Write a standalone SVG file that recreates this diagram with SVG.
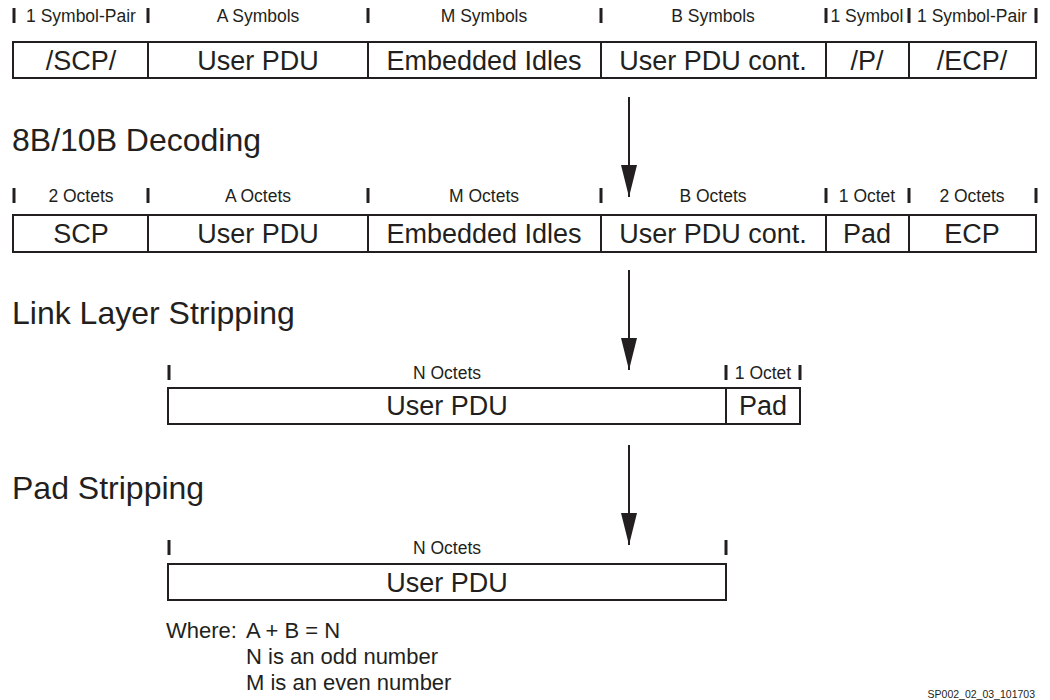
<svg xmlns="http://www.w3.org/2000/svg" width="1050" height="700" viewBox="0 0 1050 700">
<defs>
<style>
text{font-family:"Liberation Sans",Arial,sans-serif;fill:#231f20}
.lbl{font-size:17.5px;text-anchor:middle}
.cell{font-size:27px;text-anchor:middle}
.head{font-size:32px}
.note{font-size:22px}
.box{fill:#fff;stroke:#231f20;stroke-width:2}
.div{stroke:#231f20;stroke-width:2}
.tick{stroke:#231f20;stroke-width:3}
.arr{stroke:#231f20;stroke-width:2;fill:none}
</style>
<marker id="ah" viewBox="0 0 32 16" refX="32" refY="8" markerWidth="32" markerHeight="16" markerUnits="userSpaceOnUse" orient="auto">
<path d="M0,0 L32,8 L0,16 Z" fill="#231f20"/>
</marker>
</defs>
<rect width="1050" height="700" fill="#fff"/>

<g id="row1">
<g class="tick">
<line x1="14" y1="8" x2="14" y2="23"/><line x1="148" y1="8" x2="148" y2="23"/><line x1="368" y1="8" x2="368" y2="23"/><line x1="601" y1="8" x2="601" y2="23"/><line x1="826" y1="8" x2="826" y2="23"/><line x1="909" y1="8" x2="909" y2="23"/><line x1="1036" y1="8" x2="1036" y2="23"/>
</g>
<text class="lbl" x="81" y="22">1 Symbol-Pair</text>
<text class="lbl" x="258" y="22">A Symbols</text>
<text class="lbl" x="484" y="22">M Symbols</text>
<text class="lbl" x="713" y="22">B Symbols</text>
<text class="lbl" x="867" y="22">1 Symbol</text>
<text class="lbl" x="972" y="22">1 Symbol-Pair</text>
<rect class="box" x="13" y="42" width="1023" height="36"/>
<g class="div"><line x1="148" y1="42" x2="148" y2="78"/><line x1="368" y1="42" x2="368" y2="78"/><line x1="601" y1="42" x2="601" y2="78"/><line x1="826" y1="42" x2="826" y2="78"/><line x1="909" y1="42" x2="909" y2="78"/></g>
<text class="cell" x="81" y="70">/SCP/</text>
<text class="cell" x="258" y="70">User PDU</text>
<text class="cell" x="484" y="70">Embedded Idles</text>
<text class="cell" x="713" y="70">User PDU cont.</text>
<text class="cell" x="867" y="70">/P/</text>
<text class="cell" x="972" y="70">/ECP/</text>
</g>

<text class="head" x="12" y="151">8B/10B Decoding</text>

<g id="row2">
<g class="tick">
<line x1="14" y1="188" x2="14" y2="203"/><line x1="148" y1="188" x2="148" y2="203"/><line x1="368" y1="188" x2="368" y2="203"/><line x1="601" y1="188" x2="601" y2="203"/><line x1="826" y1="188" x2="826" y2="203"/><line x1="909" y1="188" x2="909" y2="203"/><line x1="1036" y1="188" x2="1036" y2="203"/>
</g>
<text class="lbl" x="81" y="202">2 Octets</text>
<text class="lbl" x="258" y="202">A Octets</text>
<text class="lbl" x="484" y="202">M Octets</text>
<text class="lbl" x="713" y="202">B Octets</text>
<text class="lbl" x="867" y="202">1 Octet</text>
<text class="lbl" x="972" y="202">2 Octets</text>
<rect class="box" x="13" y="215" width="1023" height="37"/>
<g class="div"><line x1="148" y1="215" x2="148" y2="252"/><line x1="368" y1="215" x2="368" y2="252"/><line x1="601" y1="215" x2="601" y2="252"/><line x1="826" y1="215" x2="826" y2="252"/><line x1="909" y1="215" x2="909" y2="252"/></g>
<text class="cell" x="81" y="243">SCP</text>
<text class="cell" x="258" y="243">User PDU</text>
<text class="cell" x="484" y="243">Embedded Idles</text>
<text class="cell" x="713" y="243">User PDU cont.</text>
<text class="cell" x="867" y="243">Pad</text>
<text class="cell" x="972" y="243">ECP</text>
</g>

<text class="head" x="12" y="324">Link Layer Stripping</text>

<g id="row3">
<g class="tick"><line x1="169" y1="365" x2="169" y2="380"/><line x1="726" y1="365" x2="726" y2="380"/><line x1="800" y1="365" x2="800" y2="380"/></g>
<text class="lbl" x="447" y="379">N Octets</text>
<text class="lbl" x="763" y="379">1 Octet</text>
<rect class="box" x="168" y="388" width="632" height="36"/>
<line class="div" x1="726" y1="388" x2="726" y2="424"/>
<text class="cell" x="447" y="415">User PDU</text>
<text class="cell" x="763" y="415">Pad</text>
</g>

<text class="head" x="12" y="499">Pad Stripping</text>

<g id="row4">
<g class="tick"><line x1="169" y1="540" x2="169" y2="555"/><line x1="726" y1="540" x2="726" y2="555"/></g>
<text class="lbl" x="447" y="554">N Octets</text>
<rect class="box" x="168" y="564" width="558" height="36"/>
<text class="cell" x="447" y="592">User PDU</text>
</g>

<g id="connectors">
<line class="arr" x1="629" y1="97" x2="629" y2="197" marker-end="url(#ah)"/>
<line class="arr" x1="629" y1="270" x2="629" y2="370" marker-end="url(#ah)"/>
<line class="arr" x1="629" y1="445" x2="629" y2="545" marker-end="url(#ah)"/>
</g>

<g id="notes">
<text class="note" x="166" y="638">Where:</text>
<text class="note" x="246" y="638">A + B = N</text>
<text class="note" x="246" y="664">N is an odd number</text>
<text class="note" x="246" y="690">M is an even number</text>
<text x="1035" y="698" style="font-size:10.5px;text-anchor:end">SP002_02_03_101703</text>
</g>
</svg>
